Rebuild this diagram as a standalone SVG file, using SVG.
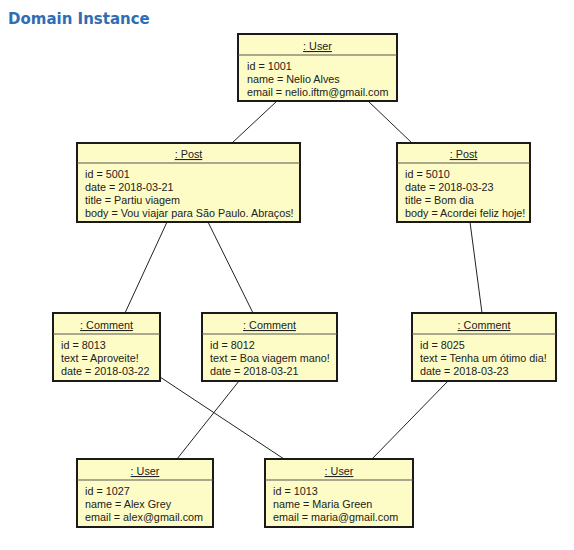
<svg xmlns="http://www.w3.org/2000/svg" width="574" height="550" viewBox="0 0 574 550">
<style>
.box{fill:#fdfcc6;stroke:#1a1a1a;stroke-width:2}
.sep{stroke:#555;stroke-width:1}
.hd{font-family:"Liberation Sans",Arial,sans-serif;font-size:10.8px;fill:#222;text-anchor:middle;text-decoration:underline}
.at{font-family:"Liberation Sans",Arial,sans-serif;font-size:10.8px;fill:#222}
.title{font-family:"DejaVu Sans",Verdana,sans-serif;font-size:15px;font-weight:bold;fill:#2f6db4}
.conn line{stroke:#222;stroke-width:1}
</style>
<rect width="574" height="550" fill="#ffffff"/>
<text class="title" x="8" y="24">Domain Instance</text>
<g id="connectors" class="conn">
<line x1="277" y1="101" x2="232" y2="143"/>
<line x1="368" y1="101" x2="412" y2="143"/>
<line x1="167" y1="222" x2="125" y2="313"/>
<line x1="208" y1="222" x2="253" y2="313"/>
<line x1="470" y1="222" x2="482" y2="313"/>
<line x1="160" y1="377" x2="284" y2="459"/>
<line x1="239" y1="381" x2="177" y2="459"/>
<line x1="448" y1="381" x2="372" y2="459"/>
</g>
<g id="user1001">
<rect class="box" x="238" y="34" width="159" height="67"/>
<line class="sep" x1="238" y1="55" x2="397" y2="55"/>
<text class="hd" x="317.5" y="50">: User</text>
<text class="at" x="247" y="70">id = 1001</text>
<text class="at" x="247" y="83">name = Nelio Alves</text>
<text class="at" x="247" y="96">email = nelio.iftm@gmail.com</text>
</g>
<g id="post5001">
<rect class="box" x="77" y="143" width="223" height="79"/>
<line class="sep" x1="77" y1="163" x2="300" y2="163"/>
<text class="hd" x="188.5" y="158">: Post</text>
<text class="at" x="85" y="178">id = 5001</text>
<text class="at" x="85" y="191">date = 2018-03-21</text>
<text class="at" x="85" y="204">title = Partiu viagem</text>
<text class="at" x="85" y="217">body = Vou viajar para São Paulo. Abraços!</text>
</g>
<g id="post5010">
<rect class="box" x="397" y="143" width="133" height="79"/>
<line class="sep" x1="397" y1="163" x2="530" y2="163"/>
<text class="hd" x="463.5" y="158">: Post</text>
<text class="at" x="405" y="178">id = 5010</text>
<text class="at" x="405" y="191">date = 2018-03-23</text>
<text class="at" x="405" y="204">title = Bom dia</text>
<text class="at" x="405" y="217">body = Acordei feliz hoje!</text>
</g>
<g id="comment8013">
<rect class="box" x="53" y="313" width="107" height="68"/>
<line class="sep" x1="53" y1="334" x2="160" y2="334"/>
<text class="hd" x="106.5" y="329">: Comment</text>
<text class="at" x="61" y="349">id = 8013</text>
<text class="at" x="61" y="362">text = Aproveite!</text>
<text class="at" x="61" y="375">date = 2018-03-22</text>
</g>
<g id="comment8012">
<rect class="box" x="202" y="313" width="135" height="68"/>
<line class="sep" x1="202" y1="334" x2="337" y2="334"/>
<text class="hd" x="269.5" y="329">: Comment</text>
<text class="at" x="210" y="349">id = 8012</text>
<text class="at" x="210" y="362">text = Boa viagem mano!</text>
<text class="at" x="210" y="375">date = 2018-03-21</text>
</g>
<g id="comment8025">
<rect class="box" x="412" y="313" width="144" height="68"/>
<line class="sep" x1="412" y1="334" x2="556" y2="334"/>
<text class="hd" x="484" y="329">: Comment</text>
<text class="at" x="420" y="349">id = 8025</text>
<text class="at" x="420" y="362">text = Tenha um ótimo dia!</text>
<text class="at" x="420" y="375">date = 2018-03-23</text>
</g>
<g id="user1027">
<rect class="box" x="77" y="459" width="136" height="68"/>
<line class="sep" x1="77" y1="480" x2="213" y2="480"/>
<text class="hd" x="145" y="475">: User</text>
<text class="at" x="85" y="495">id = 1027</text>
<text class="at" x="85" y="508">name = Alex Grey</text>
<text class="at" x="85" y="521">email = alex@gmail.com</text>
</g>
<g id="user1013">
<rect class="box" x="265" y="459" width="148" height="68"/>
<line class="sep" x1="265" y1="480" x2="413" y2="480"/>
<text class="hd" x="339" y="475">: User</text>
<text class="at" x="273" y="495">id = 1013</text>
<text class="at" x="273" y="508">name = Maria Green</text>
<text class="at" x="273" y="521">email = maria@gmail.com</text>
</g>
</svg>
